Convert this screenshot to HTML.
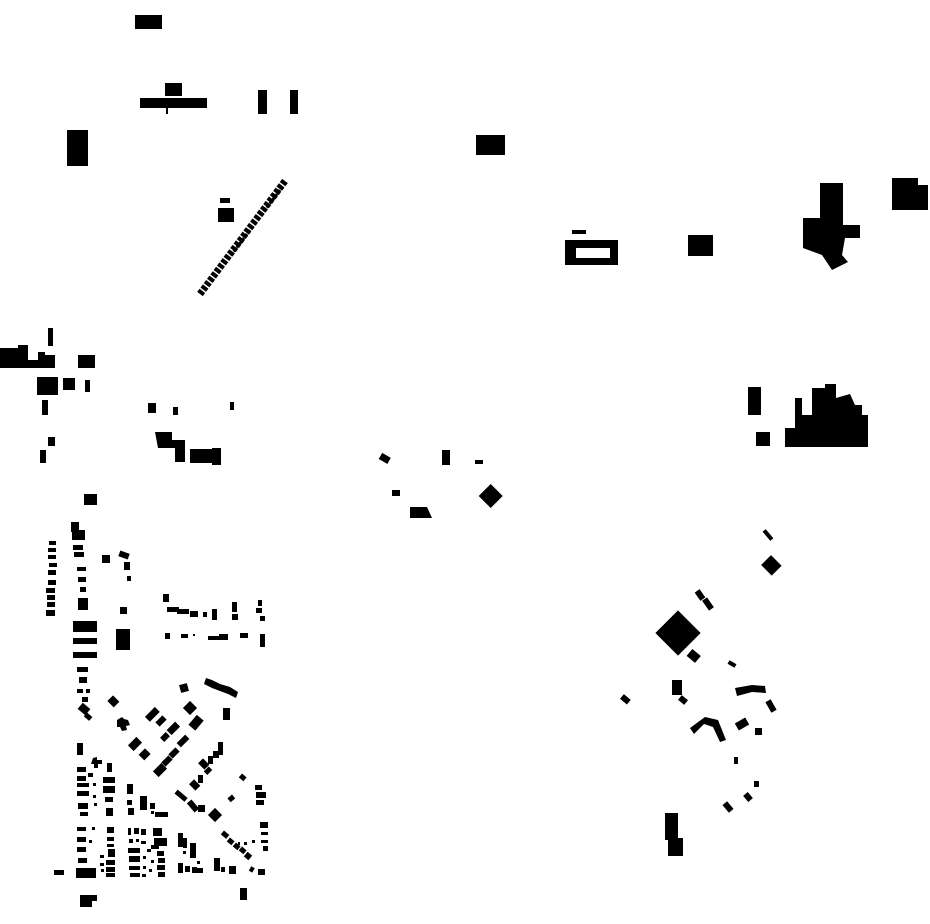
<!DOCTYPE html>
<html><head><meta charset="utf-8"><style>html,body{margin:0;padding:0;background:#fff}svg{display:block}</style></head>
<body>
<svg width="930" height="924" viewBox="0 0 930 924" xmlns="http://www.w3.org/2000/svg" fill="#000">
<!-- top left -->
<rect x="135" y="15" width="27" height="14"/>
<rect x="140" y="98" width="67" height="10"/>
<rect x="165" y="83" width="17" height="13"/>
<rect x="166" y="100" width="2" height="14"/>
<rect x="258" y="90" width="9" height="24"/>
<rect x="290" y="90" width="8" height="24"/>
<rect x="67" y="130" width="21" height="36"/>
<rect x="476" y="135" width="29" height="20"/>
<line x1="285" y1="181" x2="200" y2="294" stroke="#000" stroke-width="7" stroke-dasharray="4 1.5"/>
<line x1="280" y1="190" x2="220" y2="270" stroke="#000" stroke-width="3" stroke-dasharray="2 3"/>
<rect x="218" y="208" width="16" height="14"/>
<rect x="220" y="198" width="10" height="5"/>
<!-- top right -->
<rect x="572" y="230" width="14" height="4"/>
<path d="M565 240 H618 V265 H565 Z M576 248 V258 H610 V248 Z" fill-rule="evenodd"/>
<rect x="688" y="235" width="25" height="21"/>
<path d="M820 183 H843 V225 H860 V238 H845 L842 255 L848 262 L832 270 L822 255 L803 248 V218 H820 Z"/>
<path d="M892 178 H918 V185 H928 V210 H892 Z"/>
<!-- left mid -->
<path d="M0 348 H18 V345 H28 V360 H38 V352 H45 V355 H55 V368 H0 Z"/>
<rect x="48" y="328" width="5" height="18"/>
<rect x="78" y="355" width="17" height="13"/>
<rect x="37" y="377" width="21" height="18"/>
<rect x="63" y="378" width="12" height="12"/>
<rect x="85" y="380" width="5" height="12"/>
<rect x="42" y="400" width="6" height="15"/>
<rect x="148" y="403" width="8" height="10"/>
<rect x="173" y="407" width="5" height="8"/>
<rect x="230" y="402" width="4" height="8"/>
<path d="M155 432 H172 V440 H185 V462 H175 V448 H158 Z"/>
<rect x="190" y="449" width="30" height="14"/>
<rect x="212" y="448" width="9" height="17"/>
<rect x="48" y="437" width="7" height="9"/>
<rect x="40" y="450" width="6" height="13"/>
<!-- middle -->
<rect x="380" y="455" width="10" height="7" transform="rotate(30 385 458)"/>
<rect x="442" y="450" width="8" height="15"/>
<rect x="475" y="460" width="8" height="4"/>
<rect x="392" y="490" width="8" height="6"/>
<path d="M410 507 H427 L432 518 H410 Z"/>
<rect x="482" y="487" width="17" height="17" transform="rotate(45 490 496)"/>
<!-- right mid -->
<rect x="748" y="387" width="13" height="28"/>
<rect x="756" y="432" width="14" height="14"/>
<path d="M785 428 H795 V398 H802 V415 H812 V388 H825 V384 H836 V398 L850 394 L855 405 H862 V415 H868 V447 H785 Z"/>
<rect x="762" y="533" width="12" height="4" transform="rotate(50 768 535)"/>
<rect x="764" y="558" width="15" height="14" transform="rotate(45 771 565)"/>
<!-- lower right -->
<rect x="662" y="617" width="32" height="32" transform="rotate(45 678 633)"/>
<rect x="697" y="590" width="6" height="10" transform="rotate(-35 700 595)"/>
<rect x="705" y="598" width="6" height="12" transform="rotate(-35 708 604)"/>
<rect x="688" y="651" width="11" height="9" transform="rotate(40 693 656)"/>
<rect x="621" y="696" width="9" height="6" transform="rotate(40 625 699)"/>
<rect x="672" y="680" width="10" height="15"/>
<rect x="679" y="697" width="8" height="6" transform="rotate(40 683 700)"/>
<path d="M690 728 L705 717 L718 720 L726 740 L720 742 L713 727 L704 724 L694 734 Z"/>
<path d="M735 688 L752 685 L765 686 L766 693 L752 692 L737 696 Z"/>
<rect x="736" y="720" width="12" height="8" transform="rotate(-30 742 724)"/>
<rect x="768" y="700" width="6" height="12" transform="rotate(-30 771 706)"/>
<rect x="728" y="662" width="8" height="4" transform="rotate(30 732 664)"/>
<rect x="755" y="728" width="7" height="7"/>
<rect x="734" y="757" width="4" height="7"/>
<rect x="725" y="802" width="6" height="10" transform="rotate(-40 728 807)"/>
<rect x="745" y="793" width="6" height="8" transform="rotate(-40 748 797)"/>
<rect x="754" y="781" width="5" height="6"/>
<rect x="665" y="813" width="13" height="27"/>
<rect x="668" y="838" width="15" height="18"/>
<!-- lower left dense -->
<rect x="84" y="494" width="13" height="11"/>
<rect x="71" y="522" width="8" height="10"/>
<rect x="72" y="530" width="13" height="10"/>
<rect x="49" y="541" width="7" height="4"/>
<rect x="48" y="548" width="8" height="4"/>
<rect x="48" y="555" width="8" height="4"/>
<rect x="49" y="563" width="8" height="4"/>
<rect x="48" y="570" width="8" height="5"/>
<rect x="48" y="580" width="8" height="5"/>
<rect x="46" y="588" width="9" height="5"/>
<rect x="47" y="595" width="8" height="5"/>
<rect x="47" y="602" width="8" height="5"/>
<rect x="46" y="610" width="9" height="6"/>
<rect x="73" y="545" width="10" height="5"/>
<rect x="74" y="552" width="10" height="5"/>
<rect x="102" y="555" width="8" height="8"/>
<rect x="119" y="552" width="10" height="6" transform="rotate(20 124 555)"/>
<rect x="124" y="562" width="6" height="8"/>
<rect x="127" y="576" width="4" height="5"/>
<rect x="77" y="567" width="9" height="4"/>
<rect x="78" y="577" width="8" height="5"/>
<rect x="80" y="587" width="6" height="5"/>
<rect x="78" y="598" width="10" height="12"/>
<rect x="120" y="607" width="7" height="7"/>
<rect x="163" y="594" width="6" height="8"/>
<rect x="167" y="607" width="12" height="5"/>
<rect x="177" y="609" width="12" height="5"/>
<rect x="190" y="611" width="8" height="6"/>
<rect x="203" y="612" width="4" height="5"/>
<rect x="212" y="609" width="5" height="11"/>
<rect x="232" y="602" width="5" height="10"/>
<rect x="232" y="614" width="6" height="6"/>
<rect x="258" y="600" width="4" height="6"/>
<rect x="256" y="608" width="6" height="5"/>
<rect x="260" y="616" width="5" height="5"/>
<rect x="165" y="633" width="5" height="6"/>
<rect x="181" y="634" width="7" height="4"/>
<rect x="193" y="634" width="2" height="2"/>
<rect x="208" y="636" width="11" height="4"/>
<rect x="219" y="634" width="9" height="6"/>
<rect x="240" y="633" width="8" height="5"/>
<rect x="260" y="634" width="5" height="13"/>
<rect x="116" y="629" width="14" height="21"/>
<rect x="73" y="621" width="24" height="11"/>
<rect x="73" y="638" width="24" height="6"/>
<rect x="73" y="652" width="24" height="6"/>
<rect x="77" y="667" width="11" height="5"/>
<rect x="79" y="677" width="8" height="6"/>
<rect x="77" y="689" width="6" height="4"/>
<rect x="86" y="689" width="4" height="4"/>
<rect x="82" y="697" width="6" height="5"/>
<rect x="79" y="705" width="10" height="8" transform="rotate(40 84 709)"/>
<rect x="85" y="714" width="7" height="5" transform="rotate(40 88 716)"/>
<rect x="109" y="697" width="9" height="8" transform="rotate(45 113 701)"/>
<path d="M117 720 L122 717 L124 719 L128 720 L130 725 L126 726 L127 730 L122 731 L120 727 L117 727 Z"/>
<rect x="180" y="684" width="8" height="8" transform="rotate(-15 184 688)"/>
<path d="M206 678 L212 680 L220 684 L230 687 L238 692 L236 698 L228 694 L220 691 L212 688 L204 684 Z"/>
<rect x="223" y="708" width="7" height="12"/>
<rect x="149" y="707" width="7" height="14" transform="rotate(45 152 714)"/>
<rect x="158" y="716" width="6" height="10" transform="rotate(45 161 721)"/>
<rect x="185" y="703" width="10" height="10" transform="rotate(45 190 708)"/>
<rect x="192" y="716" width="9" height="13" transform="rotate(40 196 722)"/>
<rect x="170" y="722" width="7" height="12" transform="rotate(45 173 728)"/>
<rect x="162" y="733" width="6" height="8" transform="rotate(45 165 737)"/>
<rect x="180" y="735" width="6" height="12" transform="rotate(45 183 741)"/>
<rect x="131" y="738" width="8" height="12" transform="rotate(45 135 744)"/>
<rect x="141" y="750" width="8" height="9" transform="rotate(45 145 754)"/>
<rect x="156" y="764" width="8" height="12" transform="rotate(45 160 770)"/>
<rect x="164" y="756" width="6" height="10" transform="rotate(45 167 761)"/>
<rect x="171" y="748" width="6" height="10" transform="rotate(45 174 753)"/>
<rect x="200" y="760" width="7" height="9" transform="rotate(-45 203 764)"/>
<rect x="208" y="756" width="5" height="8"/>
<rect x="213" y="751" width="6" height="7"/>
<rect x="191" y="781" width="7" height="9" transform="rotate(-45 194 785)"/>
<rect x="198" y="775" width="5" height="8"/>
<rect x="206" y="767" width="5" height="7" transform="rotate(45 208 770)"/>
<rect x="175" y="793" width="13" height="5" transform="rotate(40 181 795)"/>
<rect x="190" y="800" width="6" height="12" transform="rotate(-40 193 806)"/>
<rect x="198" y="805" width="7" height="7"/>
<rect x="210" y="810" width="10" height="10" transform="rotate(45 215 815)"/>
<rect x="218" y="742" width="5" height="13"/>
<rect x="240" y="775" width="6" height="5" transform="rotate(40 243 777)"/>
<rect x="228" y="796" width="6" height="5" transform="rotate(-40 231 798)"/>
<rect x="77" y="743" width="6" height="12"/>
<path d="M93 758 L97 757 L97 760 L102 760 L102 764 L98 764 L98 768 L94 768 L94 764 L91 764 Z"/>
<rect x="107" y="763" width="5" height="9"/>
<rect x="77" y="767" width="9" height="5"/>
<rect x="88" y="773" width="5" height="4"/>
<rect x="77" y="776" width="9" height="5"/>
<rect x="77" y="783" width="12" height="4"/>
<rect x="77" y="791" width="12" height="5"/>
<rect x="78" y="803" width="10" height="6"/>
<rect x="80" y="812" width="8" height="4"/>
<rect x="93" y="783" width="3" height="3"/>
<rect x="93" y="795" width="3" height="3"/>
<rect x="94" y="803" width="3" height="3"/>
<rect x="103" y="777" width="12" height="6"/>
<rect x="103" y="786" width="12" height="7"/>
<rect x="105" y="797" width="8" height="5"/>
<rect x="106" y="808" width="7" height="8"/>
<rect x="127" y="784" width="6" height="10"/>
<rect x="127" y="800" width="5" height="5"/>
<rect x="128" y="808" width="6" height="7"/>
<rect x="140" y="796" width="7" height="14"/>
<rect x="150" y="803" width="5" height="6"/>
<rect x="155" y="812" width="13" height="5"/>
<rect x="151" y="811" width="3" height="3"/>
<rect x="77" y="827" width="9" height="4"/>
<rect x="92" y="827" width="3" height="3"/>
<rect x="77" y="837" width="9" height="5"/>
<rect x="89" y="840" width="3" height="3"/>
<rect x="77" y="847" width="9" height="5"/>
<rect x="78" y="858" width="9" height="5"/>
<rect x="107" y="827" width="7" height="6"/>
<rect x="107" y="837" width="7" height="4"/>
<rect x="107" y="844" width="7" height="3"/>
<rect x="108" y="849" width="7" height="8"/>
<rect x="100" y="855" width="4" height="3"/>
<rect x="106" y="860" width="9" height="5"/>
<rect x="100" y="863" width="4" height="3"/>
<rect x="106" y="867" width="9" height="5"/>
<rect x="101" y="869" width="3" height="3"/>
<rect x="106" y="873" width="9" height="4"/>
<rect x="128" y="828" width="3" height="7"/>
<rect x="134" y="828" width="5" height="6"/>
<rect x="141" y="829" width="5" height="6"/>
<rect x="153" y="828" width="9" height="8"/>
<rect x="129" y="839" width="4" height="4"/>
<rect x="136" y="839" width="3" height="3"/>
<rect x="141" y="841" width="5" height="3"/>
<rect x="154" y="838" width="13" height="8"/>
<rect x="151" y="845" width="8" height="4"/>
<rect x="128" y="848" width="12" height="5"/>
<rect x="147" y="849" width="4" height="3"/>
<rect x="157" y="851" width="7" height="5"/>
<rect x="129" y="856" width="11" height="6"/>
<rect x="143" y="856" width="3" height="3"/>
<rect x="158" y="858" width="7" height="5"/>
<rect x="151" y="860" width="3" height="3"/>
<rect x="129" y="866" width="11" height="4"/>
<rect x="143" y="866" width="3" height="3"/>
<rect x="157" y="865" width="8" height="5"/>
<rect x="149" y="869" width="3" height="3"/>
<rect x="130" y="873" width="10" height="4"/>
<rect x="142" y="874" width="4" height="3"/>
<rect x="158" y="872" width="7" height="5"/>
<rect x="178" y="833" width="5" height="14"/>
<rect x="183" y="838" width="4" height="10"/>
<rect x="190" y="843" width="6" height="15"/>
<rect x="183" y="851" width="3" height="3"/>
<rect x="178" y="863" width="5" height="10"/>
<rect x="185" y="866" width="5" height="6"/>
<rect x="192" y="867" width="5" height="6"/>
<rect x="197" y="868" width="6" height="5"/>
<rect x="197" y="861" width="3" height="3"/>
<rect x="214" y="858" width="6" height="13"/>
<rect x="221" y="867" width="4" height="5"/>
<rect x="229" y="866" width="7" height="8"/>
<rect x="222" y="832" width="7" height="5" transform="rotate(40 225 834)"/>
<rect x="228" y="839" width="6" height="5" transform="rotate(40 231 841)"/>
<rect x="234" y="844" width="6" height="5" transform="rotate(40 237 846)"/>
<rect x="240" y="848" width="6" height="5" transform="rotate(40 243 850)"/>
<rect x="245" y="853" width="6" height="6" transform="rotate(40 248 856)"/>
<rect x="250" y="867" width="4" height="5" transform="rotate(30 252 869)"/>
<rect x="258" y="869" width="7" height="6"/>
<rect x="238" y="842" width="2" height="3"/>
<rect x="244" y="842" width="3" height="3"/>
<rect x="252" y="840" width="3" height="3"/>
<rect x="255" y="785" width="7" height="5"/>
<rect x="256" y="792" width="10" height="6"/>
<rect x="256" y="800" width="8" height="5"/>
<rect x="260" y="822" width="8" height="6"/>
<rect x="261" y="832" width="7" height="3"/>
<rect x="261" y="840" width="7" height="3"/>
<rect x="263" y="846" width="5" height="5"/>
<rect x="76" y="868" width="20" height="10"/>
<rect x="54" y="870" width="10" height="5"/>
<rect x="80" y="895" width="17" height="6"/>
<rect x="80" y="901" width="12" height="6"/>
<rect x="240" y="888" width="7" height="12"/>
</svg>
</body></html>
